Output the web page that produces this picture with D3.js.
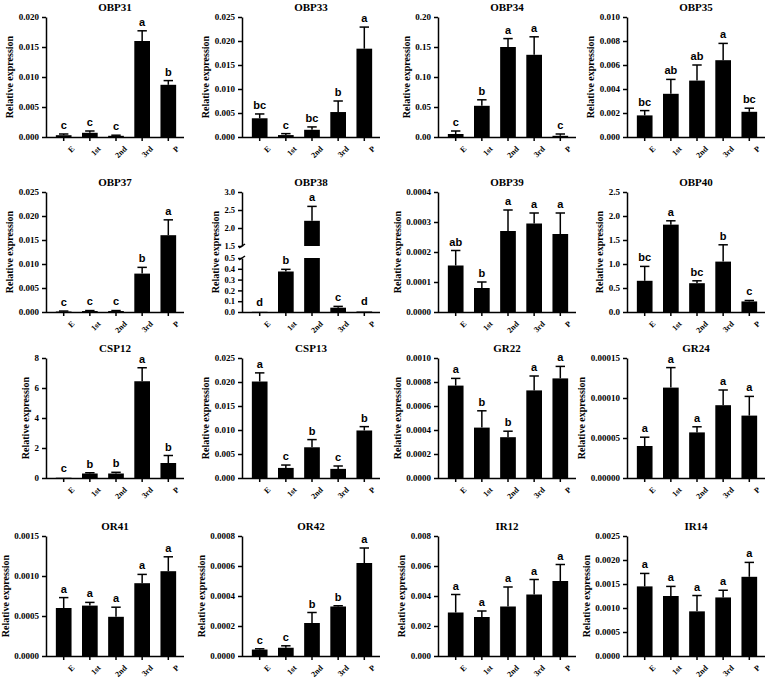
<!DOCTYPE html>
<html><head><meta charset="utf-8">
<script src="https://cdn.jsdelivr.net/npm/d3@7"></script>
<style>
body{margin:0;background:#fff}
text{fill:#000}
.tick text,.ttl,.ylab{font-family:"Liberation Serif",serif;font-weight:bold}
.ltr{font-family:"Liberation Sans",Arial,sans-serif;font-weight:bold;font-size:11px}
</style></head><body>
<svg id="chart" width="777" height="678"></svg>
<script>
var stages = ["E","1st","2nd","3rd","P"];
var genes = ["OBP31","OBP33","OBP34","OBP35","OBP37","OBP38","OBP39","OBP40",
	"CSP12","CSP13","GR22","GR24","OR41","OR42","IR12","IR14"];
var yMax = [0.020,0.025,0.20,0.010,0.025,3.0,0.0004,2.5,8,0.025,0.0010,0.00015,0.0015,0.0008,0.008,0.0025];
var yStep = [0.005,0.005,0.05,0.002,0.005,0.1,0.0001,0.5,2,0.005,0.0002,0.00005,0.0005,0.0002,0.002,0.0005];
var decimals = [3,3,2,3,3,1,4,1,0,3,4,5,4,4,3,4];
var means = [
	[0.0003,0.0007,0.0002,0.016,0.0087],
	[0.0039,0.0004,0.0015,0.0052,0.0184],
	[0.005,0.052,0.150,0.137,0.002],
	[0.0018,0.0036,0.0047,0.0064,0.0021],
	[0.0001,0.0002,0.0002,0.008,0.016],
	[0.002,0.375,2.2,0.04,0.005],
	[0.000155,0.00008,0.00027,0.000295,0.00026],
	[0.65,1.82,0.60,1.05,0.22],
	[0.02,0.3,0.3,6.45,1.0],
	[0.0201,0.0021,0.0064,0.0019,0.0099],
	[0.00077,0.00042,0.00034,0.00073,0.00083],
	[0.00004,0.000113,0.000057,0.000091,0.000078],
	[0.0006,0.00063,0.00049,0.00091,0.00106],
	[0.000043,0.000055,0.00022,0.00033,0.00062],
	[0.0029,0.0026,0.0033,0.0041,0.0050],
	[0.00145,0.00125,0.00093,0.00122,0.00165]
];
var errors = [
	[0.0002,0.0003,0.0001,0.0017,0.0007],
	[0.0009,0.0003,0.0006,0.0023,0.0045],
	[0.005,0.010,0.014,0.030,0.003],
	[0.0004,0.0012,0.0013,0.0014,0.0003],
	[0.0001,0.0001,0.0001,0.0013,0.0032],
	[0,0.02,0.4,0.012,0],
	[0.00005,0.00002,0.00007,0.000035,0.00007],
	[0.30,0.08,0.05,0.35,0.02],
	[0,0.05,0.08,0.9,0.5],
	[0.0018,0.0006,0.0016,0.0006,0.0008],
	[0.00006,0.00014,0.00005,0.00012,0.0001],
	[0.000011,0.000025,0.000007,0.000019,0.000024],
	[0.00013,0.00004,0.00012,0.00011,0.00018],
	[0.000005,0.000013,0.00007,0.000005,0.0001],
	[0.0012,0.0004,0.0013,0.0010,0.0011],
	[0.00027,0.0002,0.00033,0.00015,0.0003]
];
var letters = [
	["c","c","c","a","b"],["bc","c","bc","b","a"],["c","b","a","a","c"],["bc","ab","ab","a","bc"],
	["c","c","c","b","a"],["d","b","a","c","d"],["ab","b","a","a","a"],["bc","a","bc","b","c"],
	["c","b","b","a","b"],["a","c","b","c","b"],["a","b","b","a","a"],["a","a","a","a","a"],
	["a","a","a","a","a"],["c","c","b","b","a"],["a","a","a","a","a"],["a","a","a","a","a"]
];

var AXIS_X = [46, 242, 438, 627];
var ROW_TOP = [17, 192, 358, 536];
var PLOT_H = 120, PLOT_W = 138;

var svg = d3.select("#chart");

genes.forEach(function(gene, i) {
	var col = i % 4, row = Math.floor(i / 4);
	var x0 = AXIS_X[col], top = ROW_TOP[row], bottom = top + PLOT_H;
	var g = svg.append("g");
	var fmt = d3.format("." + decimals[i] + "f");

	var x = d3.scaleBand().domain(stages).range([x0 + 2, x0 + PLOT_W]).paddingInner(0.4).paddingOuter(0.3);

	// value -> pixel; OBP38 uses a broken axis
	var yPos;
	var yAxisG = g.append("g").attr("transform", "translate(" + x0 + ",0)");
	if (gene === "OBP38") {
		var yLow = d3.scaleLinear().domain([0, 0.5]).range([bottom, bottom - 54]);
		var yHigh = d3.scaleLinear().domain([1.5, 3.0]).range([top + 54, top]);
		yPos = function(v) { return v <= 0.5 ? yLow(v) : (v < 1.5 ? yLow(0.5) : yHigh(v)); };
		yAxisG.append("g").call(d3.axisLeft(yLow).tickValues(d3.range(0, 0.51, 0.1)).tickFormat(fmt).tickSize(4).tickSizeOuter(0));
		yAxisG.append("g").call(d3.axisLeft(yHigh).tickValues(d3.range(1.5, 3.01, 0.5)).tickFormat(fmt).tickSize(4).tickSizeOuter(0));
	} else {
		var y = d3.scaleLinear().domain([0, yMax[i]]).range([bottom, top]);
		yPos = y;
		yAxisG.call(d3.axisLeft(y).tickValues(d3.range(0, yMax[i] + yStep[i] / 2, yStep[i])).tickFormat(fmt).tickSize(4).tickSizeOuter(0));
	}
	yAxisG.selectAll(".tick text").style("font-size", gene === "OBP38" ? "8.5px" : "9px");

	var xa = g.append("g").attr("transform", "translate(0," + bottom + ")")
		.call(d3.axisBottom(x).tickSize(4).tickSizeOuter(0));
	xa.select(".domain").attr("d", "M" + x0 + ",0.5H" + (x0 + PLOT_W));
	xa.selectAll(".tick text").attr("text-anchor", "end")
		.attr("transform", "translate(3,4) rotate(-45)").attr("dy", "0.6em")
		.style("font-size", "8px");

	g.selectAll(".domain,.tick line").attr("stroke", "#000").attr("stroke-width", 1.5);

	var data = stages.map(function(s, k) { return {s: s, v: means[i][k], e: errors[i][k], l: letters[i][k]}; });

	if (gene === "OBP38") {
		data.forEach(function(d) {
			if (d.v > 1.5) {
				g.append("rect").attr("x", x(d.s)).attr("width", x.bandwidth())
					.attr("y", yPos(0.5)).attr("height", bottom - yPos(0.5));
				g.append("rect").attr("x", x(d.s)).attr("width", x.bandwidth())
					.attr("y", yPos(d.v)).attr("height", yPos(1.5) - yPos(d.v));
			} else {
				g.append("rect").attr("x", x(d.s)).attr("width", x.bandwidth())
					.attr("y", yPos(d.v)).attr("height", bottom - yPos(d.v));
			}
		});
		// axis break marks
		[top + 54, bottom - 54].forEach(function(yy) {
			g.append("line").attr("x1", x0 - 3).attr("x2", x0 + 3).attr("y1", yy + 2).attr("y2", yy - 2)
				.attr("stroke", "#000").attr("stroke-width", 1.5);
		});
		g.append("rect").attr("x", x0 - 2).attr("y", top + 57).attr("width", 4).attr("height", 5).attr("fill", "#fff");
	} else {
		g.selectAll("rect.bar").data(data).enter().append("rect").attr("class", "bar")
			.attr("x", function(d) { return x(d.s); })
			.attr("width", x.bandwidth())
			.attr("y", function(d) { return yPos(d.v); })
			.attr("height", function(d) { return bottom - yPos(d.v); });
	}

	var cap = x.bandwidth() * 0.3;
	data.forEach(function(d) {
		var cx = x(d.s) + x.bandwidth() / 2, yt = yPos(d.v + d.e);
		if (d.e > 0) {
			g.append("line").attr("x1", cx).attr("x2", cx).attr("y1", yPos(d.v)).attr("y2", yt)
				.attr("stroke", "#000").attr("stroke-width", 1.5);
			g.append("line").attr("x1", cx - cap).attr("x2", cx + cap).attr("y1", yt).attr("y2", yt)
				.attr("stroke", "#000").attr("stroke-width", 1.5);
		}
		g.append("text").attr("class", "ltr").attr("x", cx).attr("y", Math.min(yt, yPos(d.v) - 1) - 5)
			.attr("text-anchor", "middle").text(d.l);
	});

	g.append("text").attr("class", "ttl").attr("x", x0 + PLOT_W / 2).attr("y", top - 6)
		.attr("text-anchor", "middle").style("font-size", "11px").text(gene);

	// y label sits just left of the widest tick label
	var tickLeft = yAxisG.node().getBBox().x + x0;
	g.append("text").attr("class", "ylab")
		.attr("transform", "translate(" + (tickLeft - 9) + "," + (top + PLOT_H / 2) + ") rotate(-90)")
		.attr("text-anchor", "middle").attr("dy", "0.35em").style("font-size", "10px").text("Relative expression");
});
</script>
</body></html>
